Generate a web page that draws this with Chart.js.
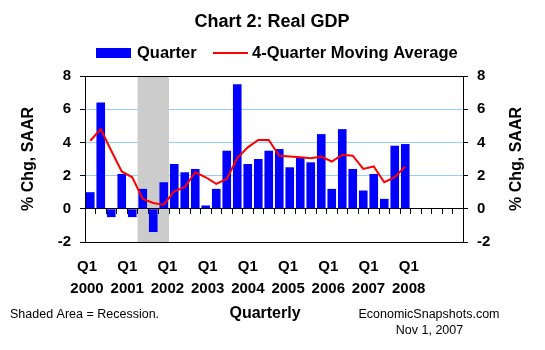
<!DOCTYPE html>
<html>
<head>
<meta charset="utf-8">
<script src="https://cdn.jsdelivr.net/npm/chart.js@4/dist/chart.umd.min.js"></script>
<style>
  html, body { margin: 0; padding: 0; background: #fff; }
  #wrap { width: 545px; height: 350px; position: relative; }
</style>
</head>
<body>
<div id="wrap"><canvas id="c" width="545" height="350"></canvas></div>
<script>
// ---- Data ----
const years = ['2000', '2001', '2002', '2003', '2004', '2005', '2006', '2007', '2008'];
const quarters = ['Q1', 'Q2', 'Q3', 'Q4'];
const tickQuarter = 'Q1';
const quarterly = [1.0, 6.4, -0.5, 2.1, -0.5, 1.2, -1.4, 1.6, 2.7, 2.2, 2.4, 0.2,
                   1.2, 3.5, 7.5, 2.7, 3.0, 3.5, 3.6, 2.5, 3.1, 2.8, 4.5, 1.2,
                   4.8, 2.4, 1.1, 2.1, 0.6, 3.8, 3.9, null, null, null, null, null];
const movingAvg = [4.1, 4.8, 3.5, 2.25, 1.9, 0.6, 0.35, 0.25, 1.05, 1.3, 2.2, 1.9,
                   1.5, 1.8, 3.05, 3.7, 4.15, 4.15, 3.2, 3.15, 3.1, 3.05, 3.15, 2.85,
                   3.25, 3.2, 2.4, 2.55, 1.6, 1.9, 2.55];
const recessionStart = '2001 Q2';
const recessionEnd = '2001 Q4';
const yTicks = [-2, 0, 2, 4, 6, 8];

const categories = [];
years.forEach(y => quarters.forEach(q => categories.push(y + ' ' + q)));

// ---- Styling ----
Chart.defaults.font.family = '"Liberation Sans", Arial, sans-serif';
Chart.defaults.color = '#000';
const FONT = '"Liberation Sans", Arial, sans-serif';

const shadePlugin = {
  id: 'shade',
  beforeDatasetsDraw(chart) {
    const {ctx, chartArea, scales} = chart;
    const x = scales.x;
    const step = x.getPixelForValue(1) - x.getPixelForValue(0);
    const i0 = categories.indexOf(recessionStart), i1 = categories.indexOf(recessionEnd);
    const left = x.getPixelForValue(i0) - step / 2;
    const right = x.getPixelForValue(i1) + step / 2;
    ctx.save();
    ctx.fillStyle = '#CCCCCC';
    ctx.fillRect(left, chartArea.top, right - left, chartArea.bottom - chartArea.top);
    ctx.restore();
    // redraw black frame lines / zero axis over the shade
    scales.y2.drawGrid(chartArea);
    scales.x.drawGrid(chartArea);
    scales.x.drawBorder();
  }
};

const textPlugin = {
  id: 'texts',
  afterDraw(chart) {
    const {ctx, chartArea} = chart;
    ctx.save();
    ctx.fillStyle = '#000';
    ctx.textBaseline = 'middle';
    // Title
    ctx.textAlign = 'center';
    ctx.font = 'bold 18px ' + FONT;
    ctx.fillText('Chart 2: Real GDP', 272, 22);
    // Legend
    ctx.fillStyle = '#0000FF';
    ctx.fillRect(96, 48, 35, 10);
    ctx.strokeStyle = '#FF0000';
    ctx.lineWidth = 2;
    ctx.beginPath(); ctx.moveTo(213, 53); ctx.lineTo(248, 53); ctx.stroke();
    ctx.fillStyle = '#000';
    ctx.textAlign = 'left';
    ctx.font = 'bold 16.5px ' + FONT;
    ctx.fillText('Quarter', 137, 53);
    ctx.fillText('4-Quarter Moving Average', 252, 53);
    // Axis titles
    const cy = (chartArea.top + chartArea.bottom) / 2;
    ctx.textAlign = 'center';
    ctx.font = 'bold 16px ' + FONT;
    [29, 517].forEach(cx => {
      ctx.save();
      ctx.translate(cx, cy);
      ctx.rotate(-Math.PI / 2);
      ctx.fillText('% Chg, SAAR', 0, 0);
      ctx.restore();
    });
    // Footer
    ctx.textAlign = 'left';
    ctx.font = '12.5px ' + FONT;
    ctx.fillText('Shaded Area = Recession.', 10, 315);
    ctx.textAlign = 'center';
    ctx.fillText('EconomicSnapshots.com', 429, 315);
    ctx.fillText('Nov 1, 2007', 429.5, 331);
    ctx.font = 'bold 16px ' + FONT;
    ctx.fillText('Quarterly', 265, 314);
    ctx.restore();
  }
};

new Chart(document.getElementById('c'), {
  type: 'bar',
  data: {
    labels: categories,
    datasets: [
      {
        type: 'line',
        label: '4-Quarter Moving Average',
        data: movingAvg,
        borderColor: '#FF0000',
        backgroundColor: '#FF0000',
        borderWidth: 2,
        pointRadius: 0,
        tension: 0,
        order: 0
      },
      {
        type: 'bar',
        label: 'Quarter',
        data: quarterly,
        backgroundColor: '#0000FF',
        borderWidth: 0,
        barPercentage: 0.82,
        categoryPercentage: 1.0,
        order: 1
      }
    ]
  },
  options: {
    responsive: false,
    animation: false,
    events: [],
    layout: { padding: { top: 76, left: 0, right: 0, bottom: 0 } },
    plugins: {
      legend: { display: false },
      title: { display: false },
      tooltip: { enabled: false }
    },
    scales: {
      x: {
        type: 'category',
        position: { y: 0 },
        offset: true,
        grid: { offset: true, drawOnChartArea: false, drawTicks: true, tickLength: 5, color: '#000', lineWidth: 1 },
        border: { display: true, color: '#000', width: 1 },
        ticks: { display: false }
      },
      xl: {
        type: 'linear',
        axis: 'x',
        position: 'bottom',
        offset: false,
        min: -0.05,
        max: 9.35,
        grid: { display: false, drawTicks: false },
        border: { display: false },
        afterBuildTicks: (s) => { s.ticks = years.map((_, i) => ({ value: i })); },
        afterFit: (s) => { s.height = 108; },
        ticks: {
          autoSkip: false,
          maxRotation: 0,
          padding: 14,
          font: { size: 15, weight: 'bold', lineHeight: 1.45 },
          color: '#000',
          callback: (v, i) => [tickQuarter, years[i]]
        }
      },
      y: {
        type: 'linear',
        position: 'left',
        min: -2,
        max: 8,
        afterBuildTicks: (s) => { s.ticks = yTicks.map(v => ({ value: v })); },
        afterFit: (s) => { s.width = 85; },
        grid: {
          z: -1,
          drawOnChartArea: true,
          drawTicks: true,
          tickLength: 5,
          color: (c) => (c.tick && c.tick.value > 0 && c.tick.value < 8) ? '#99CCFF' : 'rgba(0,0,0,0)',
          tickColor: '#000'
        },
        border: { display: true, color: '#000', width: 1 },
        ticks: { padding: 9, font: { size: 15, weight: 'bold' }, color: '#000' }
      },
      y2: {
        type: 'linear',
        position: 'right',
        min: -2,
        max: 8,
        afterBuildTicks: (s) => { s.ticks = yTicks.map(v => ({ value: v })); },
        afterFit: (s) => { s.width = 82; },
        grid: {
          drawOnChartArea: true,
          drawTicks: true,
          tickLength: 5,
          color: (c) => (c.tick && (c.tick.value === -2 || c.tick.value === 0 || c.tick.value === 8)) ? '#000' : 'rgba(0,0,0,0)',
          tickColor: '#000'
        },
        border: { display: true, color: '#000', width: 1 },
        ticks: { padding: 9, font: { size: 15, weight: 'bold' }, color: '#000' }
      }
    }
  },
  plugins: [shadePlugin, textPlugin]
});
</script>
</body>
</html>
